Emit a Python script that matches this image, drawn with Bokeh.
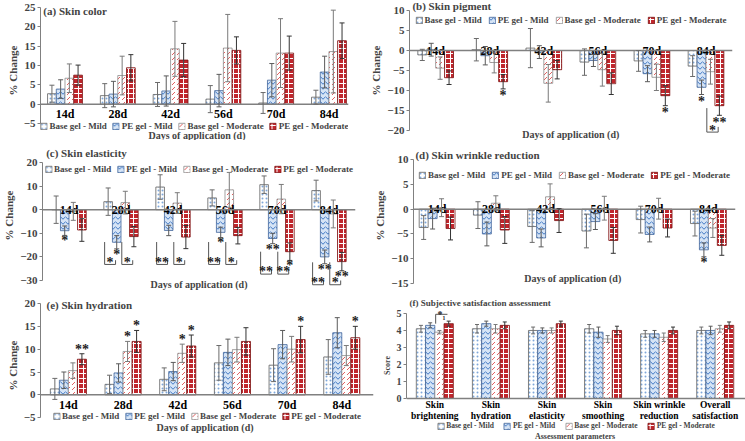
from bokeh.plotting import figure
from bokeh.models import (ColumnDataSource, Legend, LegendItem, Span, Label,
                          FixedTicker, Range1d, Whisker, TeeHead)
from bokeh.layouts import column, row
from bokeh.embed import file_html
from bokeh.resources import INLINE
from bokeh.core.properties import value

days = ["14d", "28d", "42d", "56d", "70d", "84d"]
series = ["Base gel - Mild", "PE gel - Mild", "Base gel - Moderate", "PE gel - Moderate"]
params = ["Skin\nbrightening", "Skin\nhydration", "Skin\nelasticity", "Skin\nsmoothing",
          "Skin wrinkle\nreduction", "Overall\nsatisfaction"]

# (a) Skin color
color_bm = [2.7, 2.2, 2.5, 1.3, 0.3, 1.8]
color_bm_sd = [2.2, 3.1, 3.1, 3.5, 2.7, 1.8]
color_pm = [3.9, 2.6, 3.4, 3.5, 6.2, 8.3]
color_pm_sd = [2.4, 3.3, 3.9, 4.2, 4.3, 4.1]
color_bmod = [6.7, 7.4, 14.3, 14.5, 13.2, 13.6]
color_bmod_sd = [3.7, 5.0, 7.1, 8.7, 8.9, 10.7]
color_pmod = [7.5, 9.4, 11.4, 13.9, 13.2, 16.4]
color_pmod_sd = [2.6, 3.4, 4.3, 3.5, 4.4, 4.6]

# (b) Skin pigment
pig_bm = [-1.1, 0.2, 0.6, -2.9, -2.6, -3.9]
pig_bm_sd = [1.4, 2.8, 4.9, 3.3, 2.6, 2.6]
pig_pm = [0.2, -1.3, -0.4, -2.5, -5.8, -9.2]
pig_pm_sd = [1.6, 2.3, 1.6, 1.5, 2.0, 1.8]
pig_bmod = [-4.4, -3.0, -8.2, -4.8, -6.7, -5.3]
pig_bmod_sd = [2.8, 2.6, 4.7, 4.1, 3.3, 3.1]
pig_pmod = [-6.8, -7.8, -4.8, -8.3, -11.3, -13.8]
pig_pmod_sd = [1.7, 1.8, 2.3, 2.7, 2.5, 2.4]

# (c) Skin elasticity
ela_bm = [0.0, 3.4, 9.6, 5.0, 10.6, 8.1]
ela_bm_sd = [5.8, 5.8, 5.2, 3.4, 3.7, 4.4]
ela_pm = [-8.9, -13.8, -8.8, -9.6, -12.2, -20.0]
ela_pm_sd = [2.0, 2.8, 2.2, 2.2, 2.2, 2.9]
ela_bmod = [-0.7, 3.0, 2.8, 8.4, 4.5, -1.8]
ela_bmod_sd = [3.8, 4.8, 4.4, 7.4, 6.2, 5.9]
ela_pmod = [-8.6, -11.4, -11.6, -11.0, -17.8, -22.0]
ela_pmod_sd = [4.8, 4.3, 4.9, 3.5, 3.7, 3.9]

# (d) Skin wrinkle reduction
wr_bm = [-3.7, -1.2, -3.5, -4.4, -2.1, -2.9]
wr_bm_sd = [2.4, 2.7, 3.2, 3.4, 2.7, 2.5]
wr_pm = [-1.9, -5.0, -5.8, -2.5, -5.1, -8.2]
wr_pm_sd = [2.1, 2.4, 1.8, 1.6, 1.5, 1.4]
wr_bmod = [0.3, 1.2, 2.5, 0.2, 0.1, -3.8]
wr_bmod_sd = [1.8, 1.5, 2.6, 2.4, 2.1, 1.9]
wr_pmod = [-3.9, -4.2, -2.3, -6.3, -3.8, -7.3]
wr_pmod_sd = [2.3, 2.7, 2.4, 2.6, 1.8, 2.0]

# (e) Skin hydration
hyd_bm = [1.3, 2.3, 3.4, 7.0, 6.5, 8.3]
hyd_bm_sd = [2.3, 2.0, 2.5, 3.8, 3.6, 3.8]
hyd_pm = [3.2, 4.8, 5.1, 9.3, 11.0, 13.6]
hyd_pm_sd = [1.8, 2.0, 2.0, 2.9, 3.1, 3.3]
hyd_bmod = [5.3, 9.5, 9.1, 9.9, 10.0, 8.6]
hyd_bmod_sd = [1.7, 2.2, 2.0, 2.7, 2.8, 2.2]
hyd_pmod = [7.8, 11.7, 10.7, 11.7, 12.1, 12.5]
hyd_pmod_sd = [1.2, 2.4, 2.4, 3.0, 2.9, 2.5]

# (f) Subjective satisfaction
sat_bm = [4.1, 4.1, 4.0, 4.1, 3.8, 4.0]
sat_bm_sd = [0.2, 0.25, 0.2, 0.25, 0.2, 0.2]
sat_pm = [4.3, 4.4, 4.0, 3.9, 3.8, 4.0]
sat_pm_sd = [0.15, 0.15, 0.15, 0.3, 0.2, 0.25]
sat_bmod = [3.9, 4.1, 4.0, 3.5, 3.6, 4.1]
sat_bmod_sd = [0.1, 0.25, 0.15, 0.2, 0.25, 0.2]
sat_pmod = [4.4, 4.3, 4.4, 4.0, 4.0, 4.3]
sat_pmod_sd = [0.15, 0.2, 0.15, 0.25, 0.2, 0.2]

# significance marks: (day index, series index, label)
pig_stars = [(1, 3, "*"), (4, 3, "*"), (5, 1, "*"), (5, 3, "**")]
ela_stars = [(0, 1, "*"), (1, 1, "*"), (3, 1, "*"), (4, 1, "**"), (4, 3, "*"),
             (5, 1, "**"), (5, 3, "**")]
wr_stars = [(5, 1, "*")]
hyd_stars = [(0, 3, "**"), (1, 2, "*"), (1, 3, "*"), (2, 2, "*"), (2, 3, "*"),
             (4, 3, "*"), (5, 3, "*")]
# brackets: (day index, series from, series to, level, label)
pig_brackets = [(5, 2, 3, -20.4, "*")]
ela_brackets = [(1, 0, 1, -23.2, "*"), (1, 2, 3, -23.2, "*"), (2, 0, 1, -23.2, "**"),
                (2, 2, 3, -23.2, "*"), (3, 0, 1, -23.2, "**"), (3, 2, 3, -23.2, "*"),
                (4, 0, 1, -27.3, "**"), (4, 2, 3, -27.3, "**"),
                (5, 0, 1, -31.8, "**"), (5, 2, 3, -31.8, "*")]
sat_brackets = [(0, 2, 3, 4.95, "*\u2081")]

FONT = "Liberation Serif"
BW = 0.165
OFFS = [-1.5, -0.5, 0.5, 1.5]
STYLES = [
    dict(fill_color="white", line_color="#5f5f5f", hatch_pattern="dot",
         hatch_color="#7fa7d9", hatch_scale=4, hatch_weight=1),
    dict(fill_color="#d6e4f5", line_color="#41659a", hatch_pattern="horizontal_wave",
         hatch_color="#3f78c4", hatch_scale=5, hatch_weight=1),
    dict(fill_color="white", line_color="#8c8c8c", hatch_pattern="right_diagonal_dash",
         hatch_color="#e06060", hatch_scale=5, hatch_weight=1),
    dict(fill_color="#c0272d", line_color="#7a1010", hatch_pattern="cross",
         hatch_color="white", hatch_scale=5, hatch_weight=1),
]
ERR = ["#6b6b6b", "#5a5a5a", "#7a7a7a", "#333333"]


def base_fig(w, h, xr, yr, ticks, bounds, mbl, mbr, ylabel, tick_fs="11px", ylab_fs="11px"):
    p = figure(width=w, height=h, x_range=Range1d(*xr), y_range=Range1d(*yr),
               output_backend="svg", toolbar_location=None, x_axis_location=None)
    p.min_border_left = mbl
    p.min_border_right = mbr
    p.min_border_top = 0
    p.min_border_bottom = 0
    p.outline_line_color = None
    p.grid.visible = False
    ya = p.yaxis[0]
    ya.ticker = FixedTicker(ticks=ticks)
    ya.bounds = bounds
    ya.axis_label = ylabel
    ya.axis_label_text_font = FONT
    ya.axis_label_text_font_style = "bold"
    ya.axis_label_text_font_size = ylab_fs
    ya.axis_label_standoff = 2
    ya.major_label_text_font = FONT
    ya.major_label_text_font_style = "bold"
    ya.major_label_text_font_size = tick_fs
    ya.major_label_standoff = 2
    ya.major_tick_out = 3
    ya.major_tick_in = 0
    ya.minor_tick_line_color = None
    ya.axis_line_color = "#808080"
    ya.major_tick_line_color = "#808080"
    return p


def add_bars(p, means, sds, head=5):
    rs = []
    for si in range(4):
        xs = [g + 1 + OFFS[si] * BW for g in range(len(means[si]))]
        m, s = means[si], sds[si]
        src = ColumnDataSource(dict(x=xs, top=m,
                                    lo=[a - b for a, b in zip(m, s)],
                                    hi=[a + b for a, b in zip(m, s)]))
        r = p.vbar(x="x", top="top", bottom=0, width=BW, source=src, line_width=0.8,
                   **STYLES[si])
        wk = Whisker(base="x", upper="hi", lower="lo", source=src, level="overlay",
                     line_color=ERR[si], line_width=1,
                     upper_head=TeeHead(size=head, line_color=ERR[si], line_width=1),
                     lower_head=TeeHead(size=head, line_color=ERR[si], line_width=1))
        p.add_layout(wk)
        rs.append(r)
    return rs


def add_legend(p, rs, location, margin, fs="9px", spacing=5):
    items = [LegendItem(label=series[i], renderers=[rs[i]]) for i in range(4)]
    lg = Legend(items=items, orientation="horizontal", location=location,
                border_line_color=None, background_fill_alpha=0, padding=0,
                spacing=spacing, margin=margin, glyph_width=8, glyph_height=8,
                label_standoff=2, label_height=9, label_text_font=FONT,
                label_text_font_style="bold", label_text_font_size=fs,
                label_text_baseline="middle")
    p.add_layout(lg)


def add_title(p, x, y, text, fs="11px"):
    p.add_layout(Label(x=x, y=y, text=text, text_font=FONT, text_font_style="bold",
                       text_font_size=fs, text_baseline="middle", text_align="left"))


def add_xlabel(p, y, text="Days of application (d)", fs="10px"):
    p.add_layout(Label(x=3.5, y=y, text=text, text_font=FONT, text_font_style="bold",
                       text_font_size=fs, text_baseline="middle", text_align="center"))


def add_zero(p):
    p.add_layout(Span(location=0, dimension="width", line_color="#808080", line_width=1.5))


def add_cat_labels(p, labels, baseline, yoff, fs="12px"):
    p.text(x=[g + 1 for g in range(len(labels))], y=[0] * len(labels), text=labels,
           text_font=value(FONT), text_font_style="bold", text_font_size=fs,
           text_align="center", text_baseline=baseline, y_offset=yoff, text_color="black",
           text_line_height=1.05)


def add_stars(p, stars, means, sds, gap, fs="14px"):
    xs, ys, ts = [], [], []
    for g, si, t in stars:
        m, s = means[si][g], sds[si][g]
        sign = 1 if m >= 0 else -1
        xs.append(g + 1 + OFFS[si] * BW)
        ys.append(m + sign * (s + gap))
        ts.append(t)
    p.text(x=xs, y=ys, text=ts, text_font=value(FONT), text_font_style="bold",
           text_font_size=fs, text_align="center", text_baseline="middle",
           text_color="#222222")


def add_brackets(p, brackets, arm_l, arm_r, direction, fs="14px", txt_dy=0.0):
    xs_l, ys_l, tx, ty, tt = [], [], [], [], []
    for g, s1, s2, lvl, t in brackets:
        x1 = g + 1 + OFFS[s1] * BW - BW / 2 + 0.015
        x2 = g + 1 + OFFS[s2] * BW - BW / 2 + 0.06
        xs_l.append([x1, x1, x2, x2])
        ys_l.append([lvl + direction * arm_l, lvl, lvl, lvl + direction * arm_r])
        tx.append((x1 + x2) / 2)
        ty.append(lvl + txt_dy)
        tt.append(t)
    p.multi_line(xs=xs_l, ys=ys_l, line_color="#555555", line_width=1)
    p.text(x=tx, y=ty, text=tt, text_font=value(FONT), text_font_style="bold",
           text_font_size=fs, text_align="center", text_baseline="middle",
           text_color="#222222")


# ---------------- (a) ----------------
pa = base_fig(367, 140, (0.536, 6.37), (-9.4, 26.8), [-5, 0, 5, 10, 15, 20, 25], (-5, 25),
              40, 19, "% Change")
ra = add_bars(pa, [color_bm, color_pm, color_bmod, color_pmod],
              [color_bm_sd, color_pm_sd, color_bmod_sd, color_pmod_sd])
add_zero(pa)
add_cat_labels(pa, days, "top", 3)
add_title(pa, 0.59, 24.2, "(a) Skin color")
add_legend(pa, ra, "bottom_center", 9)
add_xlabel(pa, -8.1)

# ---------------- (b) ----------------
pb = base_fig(378, 140, (0.516, 6.49), (-22.5, 12.5), [-20, -15, -10, -5, 0, 5, 10],
              (-20, 10), 38, 13, "% Change")
rb = add_bars(pb, [pig_bm, pig_pm, pig_bmod, pig_pmod],
              [pig_bm_sd, pig_pm_sd, pig_bmod_sd, pig_pmod_sd])
add_zero(pb)
add_cat_labels(pb, days, "middle", 0)
add_title(pb, 0.57, 11.2, "(b) Skin pigment")
add_legend(pb, rb, "top_center", 15, spacing=6)
add_stars(pb, pig_stars, [pig_bm, pig_pm, pig_bmod, pig_pmod],
          [pig_bm_sd, pig_pm_sd, pig_bmod_sd, pig_pmod_sd], 1.7)
add_brackets(pb, pig_brackets, 6.0, 1.3, 1, txt_dy=0.4)
add_xlabel(pb, -21.0)

# ---------------- (c) ----------------
pc = base_fig(371, 150, (0.49, 6.51), (-34.24, 29.32), [-30, -20, -10, 0, 10, 20], (-30, 20),
              37, 16, "% Change")
rc = add_bars(pc, [ela_bm, ela_pm, ela_bmod, ela_pmod],
              [ela_bm_sd, ela_pm_sd, ela_bmod_sd, ela_pmod_sd])
add_zero(pc)
add_cat_labels(pc, days, "middle", 0)
add_title(pc, 0.56, 23.9, "(c) Skin elasticity")
add_legend(pc, rc, "top_center", 24)
add_stars(pc, ela_stars, [ela_bm, ela_pm, ela_bmod, ela_pmod],
          [ela_bm_sd, ela_pm_sd, ela_bmod_sd, ela_pmod_sd], 2.3)
add_brackets(pc, ela_brackets, 9.5, 1.8, 1, txt_dy=0.9)
add_xlabel(pc, -31.9)

# ---------------- (d) ----------------
pd_ = base_fig(374, 150, (0.565, 6.5), (-16.4, 13.85), [-15, -10, -5, 0, 5, 10], (-15, 10),
               37, 10, "% Change")
rd = add_bars(pd_, [wr_bm, wr_pm, wr_bmod, wr_pmod],
              [wr_bm_sd, wr_pm_sd, wr_bmod_sd, wr_pmod_sd])
add_zero(pd_)
add_cat_labels(pd_, days, "middle", 0)
add_title(pd_, 0.6, 11.0, "(d) Skin wrinkle reduction")
add_legend(pd_, rd, "top_center", 30, spacing=6)
add_stars(pd_, wr_stars, [wr_bm, wr_pm, wr_bmod, wr_pmod],
          [wr_bm_sd, wr_pm_sd, wr_bmod_sd, wr_pmod_sd], 1.2)
add_xlabel(pd_, -14.0)

# ---------------- (e) ----------------
pe = base_fig(375, 150, (0.49, 6.58), (-10.0, 22.85), [-5, 0, 5, 10, 15, 20], (-5, 20),
              40, 2, "% Change")
re_ = add_bars(pe, [hyd_bm, hyd_pm, hyd_bmod, hyd_pmod],
               [hyd_bm_sd, hyd_pm_sd, hyd_bmod_sd, hyd_pmod_sd])
add_zero(pe)
add_cat_labels(pe, days, "top", 3)
add_title(pe, 0.6, 19.6, "(e) Skin hydration")
add_stars(pe, hyd_stars, [hyd_bm, hyd_pm, hyd_bmod, hyd_pmod],
          [hyd_bm_sd, hyd_pm_sd, hyd_bmod_sd, hyd_pmod_sd], 1.0)
add_legend(pe, re_, "bottom_center", 19)
add_xlabel(pe, -7.2)

# ---------------- (f) ----------------
pf = base_fig(370, 150, (0.495, 6.54), (-2.47, 6.35), [0, 1, 2, 3, 4, 5], (0, 5),
              31, 0, "Score", tick_fs="10px", ylab_fs="8px")
rf = add_bars(pf, [sat_bm, sat_pm, sat_bmod, sat_pmod],
              [sat_bm_sd, sat_pm_sd, sat_bmod_sd, sat_pmod_sd], head=4)
add_zero(pf)
add_cat_labels(pf, params, "top", 2, fs="9.5px")
add_title(pf, 0.55, 5.6, "(f) Subjective satisfaction assessment", fs="9px")
add_brackets(pf, sat_brackets, -0.55, 0.0, 1, fs="10px", txt_dy=0.0)
add_legend(pf, rf, "bottom_center", 10, fs="7.5px", spacing=9)
add_xlabel(pf, -2.22, text="Assessment parameters", fs="8px")

layout = column(row(pa, pb), row(pc, pd_), row(pe, pf))
open("out.html", "w").write(file_html(layout, INLINE))
